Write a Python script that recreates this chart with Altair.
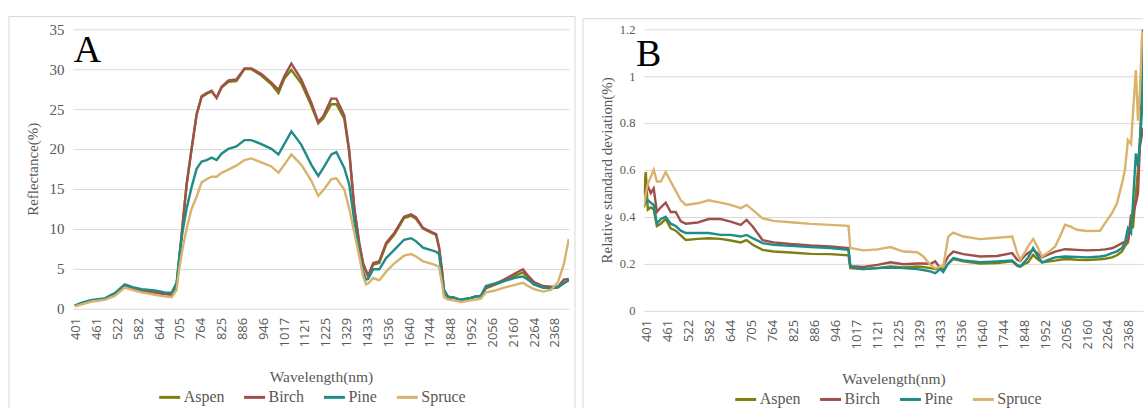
import altair as alt
import pandas as pd

# ---------------- data ----------------
wl_labels = ["401", "461", "522", "582", "644", "705", "764", "825", "886", "946",
             "1017", "1121", "1225", "1329", "1433", "1536", "1640", "1744", "1848",
             "1952", "2056", "2160", "2264", "2368"]
species = ["Aspen", "Birch", "Pine", "Spruce"]
colors = ["#7f7f0f", "#a0504a", "#1e8c87", "#d9b36c"]

# Panel A: reflectance (%), x = category position (0 = 401 nm label, 23 = 2368 nm label)
xa = [-0.05, 0.29, 0.77, 1.39, 1.87, 2.35, 2.73, 3.16, 3.79, 4.26,
      4.60, 4.84, 4.98, 5.13, 5.32, 5.56, 5.80, 6.04, 6.28, 6.52,
      6.76, 7.00, 7.33, 7.71, 8.10, 8.43, 8.91, 9.39, 9.73, 10.01,
      10.35, 10.83, 11.31, 11.64, 11.88, 12.27, 12.51, 12.89, 13.13, 13.37,
      13.61, 13.80, 13.94, 14.04, 14.28, 14.57, 14.90, 15.28, 15.76, 16.10,
      16.34, 16.67, 17.06, 17.30, 17.44, 17.59, 17.68, 17.87, 18.11, 18.50,
      18.97, 19.21, 19.45, 19.69, 20.08, 20.56, 21.04, 21.47, 21.71, 22.00,
      22.43, 22.81, 23.15, 23.43, 23.67]
aspen_a = [0.3, 0.6, 0.95, 1.15, 1.7, 2.8, 2.5, 2.2, 2.05, 1.85,
           1.75, 2.9, 6.5, 10.5, 15.5, 20.0, 24.3, 26.5, 26.9, 27.2,
           26.4, 27.7, 28.4, 28.5, 30.0, 30.0, 29.2, 28.1, 27.0, 28.8,
           29.9, 28.2, 25.4, 23.2, 23.8, 25.6, 25.6, 23.8, 19.5, 12.5,
           8.0, 5.5, 4.6, 4.0, 5.5, 5.7, 8.0, 9.2, 11.3, 11.6,
           11.2, 10.0, 9.5, 9.2, 7.6, 4.5, 2.2, 1.3, 1.4, 1.0,
           1.3, 1.5, 1.5, 2.5, 2.9, 3.4, 4.0, 4.5, 3.8, 3.0,
           2.6, 2.5, 2.6, 3.2, 3.5]
birch_a = [0.3, 0.6, 0.95, 1.15, 1.7, 2.8, 2.45, 2.15, 1.95, 1.8,
           1.7, 2.9, 6.5, 10.5, 15.5, 20.0, 24.3, 26.6, 27.0, 27.3,
           26.4, 27.8, 28.6, 28.7, 30.1, 30.1, 29.4, 28.3, 27.4, 29.1,
           30.7, 28.7, 25.8, 23.4, 24.1, 26.3, 26.3, 24.2, 19.8, 12.7,
           8.2, 5.6, 4.7, 4.1, 5.7, 5.9, 8.2, 9.4, 11.5, 11.8,
           11.4, 10.1, 9.6, 9.3, 7.7, 4.6, 2.2, 1.3, 1.4, 1.0,
           1.3, 1.5, 1.5, 2.6, 3.0, 3.6, 4.3, 4.9, 4.1, 3.3,
           2.8, 2.7, 2.7, 3.6, 3.7]
pine_a = [0.35, 0.7, 1.05, 1.25, 1.9, 3.0, 2.65, 2.4, 2.25, 2.0,
          1.95, 3.2, 6.8, 9.7, 12.5, 15.2, 17.5, 18.4, 18.6, 18.9,
          18.6, 19.4, 20.0, 20.3, 21.1, 21.1, 20.6, 20.0, 19.3, 20.6,
          22.2, 20.5, 18.0, 16.6, 17.6, 19.3, 19.6, 17.6, 15.5, 11.0,
          7.0, 4.6, 3.6, 3.7, 4.9, 4.9, 6.3, 7.3, 8.6, 8.8,
          8.4, 7.6, 7.3, 7.1, 6.8, 3.5, 2.3, 1.5, 1.3, 1.1,
          1.3, 1.5, 1.6, 2.8, 3.1, 3.4, 3.8, 4.0, 3.6, 3.0,
          2.6, 2.5, 2.7, 3.1, 3.6]
spruce_a = [0.25, 0.5, 0.85, 1.05, 1.55, 2.6, 2.3, 2.0, 1.7, 1.5,
            1.4, 2.3, 5.2, 7.5, 10.0, 12.5, 14.0, 15.8, 16.2, 16.5,
            16.5, 17.0, 17.4, 17.9, 18.6, 18.8, 18.3, 17.8, 17.0, 18.0,
            19.3, 18.0, 16.0, 14.1, 14.8, 16.2, 16.3, 14.9, 12.5, 9.5,
            6.5, 4.0, 3.0, 3.1, 3.8, 3.5, 4.6, 5.6, 6.6, 6.8,
            6.5, 5.9, 5.6, 5.4, 5.2, 3.0, 1.4, 1.1, 1.0, 0.8,
            1.0, 1.1, 1.2, 2.0, 2.2, 2.6, 2.9, 3.2, 2.8, 2.4,
            2.1, 2.3, 3.3, 5.5, 8.7]

# Panel B: relative standard deviation (%)
xb = [-0.14, -0.05, 0.05, 0.19, 0.33, 0.48, 0.67, 0.90, 1.14, 1.38,
      1.62, 1.86, 2.43, 2.95, 3.52, 4.00, 4.48, 4.76, 5.05, 5.52,
      6.05, 6.86, 7.81, 8.76, 9.62, 9.71, 10.33, 11.00, 11.62, 12.24,
      12.90, 13.19, 13.52, 13.76, 14.00, 14.14, 14.38, 14.62, 15.10, 15.90,
      16.71, 17.43, 17.67, 17.81, 18.05, 18.19, 18.43, 18.62, 18.86, 19.14,
      19.48, 19.71, 19.95, 20.19, 20.52, 21.00, 21.62, 21.86, 22.19, 22.43,
      22.67, 22.81, 22.95, 23.10, 23.19, 23.33, 23.43, 23.52, 23.62, 23.67]
aspen_b = [0.50, 0.59, 0.43, 0.44, 0.43, 0.36, 0.37, 0.39, 0.35, 0.34,
           0.32, 0.30, 0.305, 0.308, 0.305, 0.298, 0.29, 0.30, 0.28, 0.258,
           0.251, 0.247, 0.241, 0.24, 0.235, 0.18, 0.176, 0.18, 0.187, 0.183,
           0.187, 0.185, 0.18, 0.176, 0.18, 0.173, 0.20, 0.219, 0.209, 0.20,
           0.202, 0.209, 0.19, 0.186, 0.20, 0.205, 0.237, 0.22, 0.205, 0.208,
           0.212, 0.216, 0.219, 0.218, 0.216, 0.215, 0.218, 0.22, 0.226, 0.235,
           0.251, 0.275, 0.29, 0.41, 0.35, 0.50, 0.60, 0.714, 0.95, 1.19]
birch_b = [0.49, 0.52, 0.53, 0.50, 0.52, 0.42, 0.44, 0.46, 0.42, 0.42,
           0.38, 0.37, 0.375, 0.39, 0.39, 0.379, 0.365, 0.386, 0.358, 0.30,
           0.29, 0.283, 0.277, 0.273, 0.266, 0.188, 0.185, 0.194, 0.205, 0.197,
           0.20, 0.20, 0.198, 0.209, 0.18, 0.19, 0.23, 0.251, 0.24, 0.23,
           0.232, 0.244, 0.216, 0.21, 0.235, 0.245, 0.258, 0.245, 0.226, 0.238,
           0.251, 0.256, 0.261, 0.26, 0.258, 0.256, 0.258, 0.26, 0.265, 0.275,
           0.287, 0.292, 0.297, 0.379, 0.41, 0.457, 0.50, 0.699, 0.75, 0.78]
pine_b = [0.44, 0.46, 0.47, 0.46, 0.45, 0.37, 0.39, 0.40, 0.37, 0.36,
          0.34, 0.33, 0.33, 0.33, 0.322, 0.322, 0.315, 0.322, 0.308, 0.287,
          0.28, 0.275, 0.27, 0.266, 0.258, 0.185, 0.176, 0.18, 0.183, 0.18,
          0.176, 0.172, 0.166, 0.159, 0.176, 0.163, 0.20, 0.223, 0.213, 0.205,
          0.209, 0.213, 0.194, 0.187, 0.21, 0.225, 0.266, 0.235, 0.204, 0.215,
          0.226, 0.228, 0.23, 0.229, 0.228, 0.226, 0.23, 0.233, 0.244, 0.252,
          0.266, 0.29, 0.35, 0.33, 0.457, 0.67, 0.614, 0.72, 0.85, 1.2]
spruce_b = [0.44, 0.50, 0.54, 0.57, 0.60, 0.55, 0.55, 0.59, 0.55, 0.51,
            0.47, 0.45, 0.457, 0.47, 0.46, 0.45, 0.436, 0.45, 0.429, 0.393,
            0.382, 0.376, 0.369, 0.365, 0.361, 0.266, 0.256, 0.26, 0.27, 0.251,
            0.248, 0.23, 0.194, 0.18, 0.187, 0.187, 0.315, 0.332, 0.315, 0.304,
            0.31, 0.315, 0.244, 0.216, 0.25, 0.273, 0.304, 0.273, 0.23, 0.247,
            0.273, 0.315, 0.365, 0.358, 0.344, 0.339, 0.34, 0.372, 0.415, 0.457,
            0.543, 0.60, 0.727, 0.71, 0.841, 1.026, 0.81, 0.926, 1.168, 1.19]


def long_df(x, series_list):
    rows = []
    for name, vals in zip(species, series_list):
        for xi, v in zip(x, vals):
            rows.append({"pos": xi, "value": v, "species": name})
    return pd.DataFrame(rows)


df_a = long_df(xa, [aspen_a, birch_a, pine_a, spruce_a])
df_b = long_df(xb, [aspen_b, birch_b, pine_b, spruce_b])

SERIF = "Liberation Serif, Times New Roman, serif"
GRAY = "#595959"
BORDER = "#d9d9d9"
label_expr = "[" + ",".join("'%s'" % w for w in wl_labels) + "][datum.value]"


def one():
    return alt.Chart(alt.Data(values=[{}]))


def frame(left, right, top, bottom, draw_right):
    parts = [
        one().mark_rule(color=BORDER, strokeWidth=1).encode(
            x=alt.value(left), y=alt.value(top), y2=alt.value(bottom)),
        one().mark_rule(color=BORDER, strokeWidth=1).encode(
            x=alt.value(left), x2=alt.value(right), y=alt.value(top)),
    ]
    if draw_right:
        parts.append(one().mark_rule(color=BORDER, strokeWidth=1).encode(
            x=alt.value(right), y=alt.value(top), y2=alt.value(bottom)))
    return parts


def panel(df, xdomain, width, height, ytitle, ydomain, yvalues, ylabel_size,
          ytitle_pad, letter, letter_x, letter_y, legend_x, legend_y,
          fr_left, fr_right, fr_top, fr_bottom, draw_right):
    lines = alt.Chart(df).mark_line(strokeWidth=2.4, clip=True).encode(
        x=alt.X("pos:Q",
                scale=alt.Scale(domain=xdomain, nice=False, zero=False),
                axis=alt.Axis(values=list(range(len(wl_labels))), labelExpr=label_expr,
                              labelAngle=270, grid=False, domain=False, ticks=False,
                              labelFont="Open Sans", labelFontSize=13, labelColor=GRAY,
                              labelPadding=9, labelOverlap=False,
                              title="Wavelength(nm)", titleFont=SERIF, titleFontSize=15.5,
                              titleFontWeight="normal", titleColor=GRAY, titlePadding=23)),
        y=alt.Y("value:Q",
                scale=alt.Scale(domain=ydomain, nice=False, zero=True),
                axis=alt.Axis(values=yvalues, format="~g", grid=True, gridColor=BORDER,
                              gridWidth=1, domain=False, ticks=False,
                              labelFont=SERIF, labelFontSize=ylabel_size, labelColor=GRAY,
                              labelPadding=9, title=ytitle, titleFont=SERIF,
                              titleFontSize=15, titleFontWeight="normal", titleColor=GRAY,
                              titlePadding=ytitle_pad)),
        color=alt.Color("species:N",
                        scale=alt.Scale(domain=species, range=colors),
                        legend=alt.Legend(orient="none", legendX=legend_x, legendY=legend_y,
                                          direction="horizontal", title=None,
                                          symbolType="stroke", symbolStrokeWidth=3,
                                          symbolSize=441, labelFont=SERIF, labelFontSize=16,
                                          labelColor=GRAY, labelOffset=2, columnPadding=13,
                                          padding=0)),
    )
    text = one().mark_text(
        text=letter, font=SERIF, fontSize=38, color="black", align="left",
        baseline="alphabetic"
    ).encode(x=alt.value(letter_x), y=alt.value(letter_y))
    layers = frame(fr_left, fr_right, fr_top, fr_bottom, draw_right) + [lines, text]
    return alt.layer(*layers).properties(width=width, height=height)


chart_a = panel(df_a, [-0.14, 23.68], 497, 279.5, "Reflectance(%)", [0, 35],
                [0, 5, 10, 15, 20, 25, 30, 35], 15, 8, "A", 1, 33, 85, 356.7,
                -64, 503, -12.8, 379.5, True)
chart_b = panel(df_b, [-0.14, 23.67], 500, 281.5, "Relative standard deviation(%)",
                [0, 1.2], [0, 0.2, 0.4, 0.6, 0.8, 1.0, 1.2], 12.5, 5, "B", -8, 37, 90,
                358.8, -61, 500, -10.7, 381.5, False)

chart = alt.hconcat(chart_a, chart_b, spacing=6).resolve_legend(
    color="independent"
).properties(
    padding={"left": 8, "top": 15, "right": 0, "bottom": 0},
    background="white",
).configure_view(stroke=None)

chart.save("out.html", embed_options={"renderer": "svg", "actions": False})
